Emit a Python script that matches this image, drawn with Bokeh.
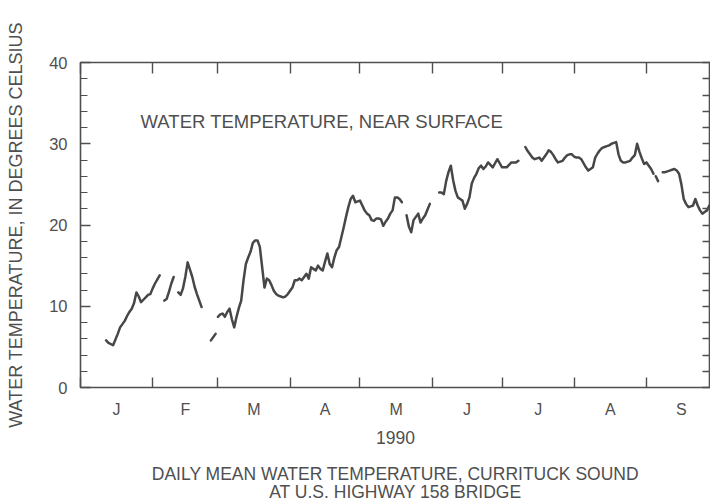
import numpy as np
from bokeh.plotting import figure
from bokeh.models import Range1d, LinearAxis, FixedTicker, Label
from bokeh.embed import file_html
from bokeh.resources import INLINE

# ---------------- data ----------------
month_starts = [0, 31, 59, 90, 120, 151, 181, 212, 243, 273]
month_labels = ["J", "F", "M", "A", "M", "J", "J", "A", "S"]
y_major = [0, 10, 20, 30, 40]
y_minor = list(range(0, 41, 2))

# day of year / daily mean water temperature (deg C), gaps = missing record
seg1_day = [11, 12, 14, 16, 17, 19, 20, 21, 22, 23, 24, 25, 26, 27, 28, 29, 30, 31, 32, 33, 34]
seg1_t = [5.8, 5.5, 5.2, 6.6, 7.4, 8.2, 8.8, 9.3, 9.7, 10.4, 11.7, 11.2, 10.5, 10.8, 11.1, 11.4, 11.5, 12.2, 12.8, 13.3, 13.8]
seg2_day = [36, 37, 38, 39, 40]
seg2_t = [10.7, 10.9, 11.8, 12.8, 13.6]
seg3_day = [42, 43, 44, 45, 46, 47, 48, 49, 50, 51, 52]
seg3_t = [11.7, 11.4, 12.2, 13.6, 15.4, 14.5, 13.6, 12.4, 11.5, 10.7, 9.9]
seg4_day = [56, 57, 58]
seg4_t = [5.8, 6.2, 6.6]
seg5_day = list(range(59, 90)) + list(range(91, 139))
seg5_t = [8.7, 9.0, 9.1, 8.7, 9.3, 9.7, 8.4, 7.4, 8.7, 9.8, 10.7, 13.2, 15.2, 16.0, 16.7, 17.8,
          18.1, 18.1, 17.3, 14.8, 12.3, 13.4, 13.2, 12.6, 11.9, 11.5, 11.3, 11.2, 11.1, 11.2, 11.5,
          12.3, 13.2, 13.2, 13.4, 13.2, 13.6, 14.0, 13.4, 14.8, 14.6, 14.4, 15.0, 14.6, 14.4, 15.5,
          16.5, 15.2, 14.8, 16.0, 16.9, 17.3, 18.5, 19.7, 21.0, 22.2, 23.2, 23.6, 22.8, 22.9, 23.0,
          22.4, 21.8, 21.4, 21.2, 20.6, 20.5, 20.8, 20.8, 20.7, 19.9, 20.4, 20.8, 21.4, 21.8, 23.4,
          23.4, 23.2, 22.8]
seg6_day = list(range(140, 151))
seg6_t = [21.2, 19.8, 19.1, 20.6, 21.0, 21.4, 20.3, 20.8, 21.2, 21.9, 22.6]
seg7_day = list(range(154, 189))
seg7_t = [24.0, 24.0, 23.8, 25.4, 26.5, 27.3, 25.5, 24.2, 23.4, 23.2, 23.0, 22.0, 22.6, 23.4, 25.1,
          25.8, 26.3, 27.0, 27.3, 26.9, 27.2, 27.7, 27.4, 27.1, 27.6, 28.1, 27.6, 27.1, 27.1, 27.1,
          27.4, 27.7, 27.7, 27.7, 27.9]
seg8_day = list(range(191, 247))
seg8_t = [29.6, 29.1, 28.7, 28.3, 28.1, 28.2, 28.3, 27.9, 28.3, 28.7, 29.2, 29.0, 28.6, 28.1, 27.7,
          27.8, 27.9, 28.3, 28.6, 28.7, 28.7, 28.4, 28.3, 28.3, 28.1, 27.6, 27.1, 26.7, 26.9, 27.1,
          28.3, 28.8, 29.2, 29.5, 29.6, 29.7, 29.8, 30.0, 30.1, 30.2, 28.7, 27.9, 27.7, 27.7, 27.8,
          27.9, 28.3, 28.6, 30.0, 29.0, 28.2, 27.5, 27.7, 27.3, 26.9, 26.3]
seg9_day = [247, 248]
seg9_t = [26.0, 25.4]
seg10_day = list(range(250, 271))
seg10_t = [26.5, 26.5, 26.6, 26.7, 26.8, 26.9, 26.7, 26.3, 25.0, 23.2, 22.6, 22.2, 22.3, 22.4, 23.2,
           22.4, 21.8, 21.4, 21.6, 21.8, 22.4]

segments = [(seg1_day, seg1_t), (seg2_day, seg2_t), (seg3_day, seg3_t), (seg4_day, seg4_t),
            (seg5_day, seg5_t), (seg6_day, seg6_t), (seg7_day, seg7_t), (seg8_day, seg8_t),
            (seg9_day, seg9_t), (seg10_day, seg10_t)]

xs, ys = [], []
for d, t in segments:
    xs += list(d) + [np.nan]
    ys += list(t) + [np.nan]

mid_months = [(a + b) / 2 for a, b in zip(month_starts[:-1], month_starts[1:])]

year_label = "1990"
caption = ["DAILY MEAN WATER TEMPERATURE, CURRITUCK SOUND", "AT U.S. HIGHWAY 158 BRIDGE"]

# ---------------- style ----------------
FONT = "Liberation Sans"
TXT = "#4f4f4f"
AX = "#4f4f4f"

p = figure(width=710, height=504, output_backend="svg", toolbar_location=None,
           x_range=Range1d(0, 270.5), y_range=Range1d(0, 40),
           min_border_left=80, min_border_right=0, min_border_top=62, min_border_bottom=117)
p.background_fill_color = "white"
p.border_fill_color = "white"
p.grid.visible = False
p.outline_line_color = AX
p.outline_line_width = 1.6

p.line(x=xs, y=ys, line_color="#474747", line_width=2.5, line_join="round", line_cap="round")

month_ticker = FixedTicker(ticks=mid_months, minor_ticks=month_starts)
y_ticker = FixedTicker(ticks=y_major, minor_ticks=y_minor)

# bottom axis: month letters between inward month-boundary ticks; year + caption below
xa = p.xaxis[0]
xa.ticker = month_ticker
xa.major_label_overrides = {m: lab for m, lab in zip(mid_months, month_labels)}
xa.major_tick_in = 0
xa.major_tick_out = 0
xa.minor_tick_in = 10
xa.minor_tick_out = 0
xa.minor_tick_line_color = AX
xa.minor_tick_line_width = 1.4
xa.axis_line_color = None
xa.major_label_standoff = 13
xa.major_label_text_font = FONT
xa.major_label_text_font_size = "16px"
xa.major_label_text_color = TXT
xa.axis_label = "\n".join([year_label, ""] + caption)
xa.axis_label_standoff = 7
xa.axis_label_text_font = FONT
xa.axis_label_text_font_size = "17.5px"
xa.axis_label_text_font_style = "normal"
xa.axis_label_text_color = TXT
xa.axis_label_text_line_height = 0.9

# left axis
ya = p.yaxis[0]
ya.ticker = y_ticker
ya.major_tick_in = 10
ya.major_tick_out = 0
ya.minor_tick_in = 7
ya.minor_tick_out = 0
ya.major_tick_line_color = AX
ya.minor_tick_line_color = AX
ya.major_tick_line_width = 1.4
ya.minor_tick_line_width = 1.2
ya.axis_line_color = None
ya.major_label_standoff = 13
ya.major_label_text_font = FONT
ya.major_label_text_font_size = "16.5px"
ya.major_label_text_color = TXT
ya.axis_label = "WATER TEMPERATURE, IN DEGREES CELSIUS"
ya.axis_label_standoff = 20
ya.axis_label_text_font = FONT
ya.axis_label_text_font_size = "18px"
ya.axis_label_text_font_style = "normal"
ya.axis_label_text_color = TXT

# top axis (month-boundary ticks only)
ta = LinearAxis(ticker=FixedTicker(ticks=[], minor_ticks=month_starts),
                minor_tick_in=11, minor_tick_out=0, minor_tick_line_color=AX,
                minor_tick_line_width=1.4, axis_line_color=None,
                major_tick_in=0, major_tick_out=0, major_label_standoff=0)
p.add_layout(ta, "above")

# right axis (ticks only)
ra = LinearAxis(ticker=FixedTicker(ticks=[], minor_ticks=y_minor),
                minor_tick_in=8, minor_tick_out=0, minor_tick_line_color=AX,
                minor_tick_line_width=1.3, axis_line_color=None,
                major_tick_in=0, major_tick_out=0, major_label_standoff=0)
p.add_layout(ra, "right")

# in-plot label
p.add_layout(Label(x=25.8, y=32.7, text="WATER TEMPERATURE, NEAR SURFACE", text_font=FONT,
                   text_font_size="18.5px", text_color=TXT, text_align="left",
                   text_baseline="middle"))

open("out.html", "w").write(file_html(p, INLINE))
